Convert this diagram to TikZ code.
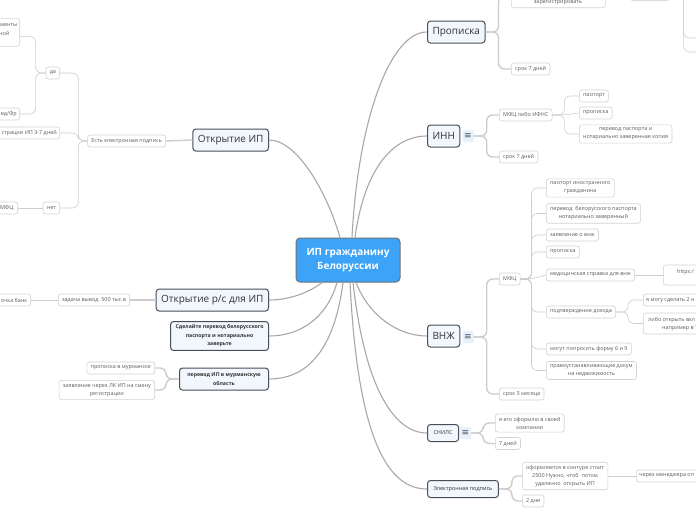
\documentclass[tikz,border=0pt]{standalone}
\usepackage{fontspec}
\setmainfont{Open Sans}
\newfontfamily\symfont{DejaVu Sans}
\usetikzlibrary{calc}
\definecolor{centfill}{HTML}{3DA3F7}
\definecolor{centdraw}{HTML}{6E7378}
\definecolor{topfill}{HTML}{F2F7FD}
\definecolor{topdraw}{HTML}{4A4F55}
\definecolor{toptext}{HTML}{333333}
\definecolor{subdraw}{HTML}{D2D2D2}
\definecolor{subtext}{HTML}{5C5C5C}
\definecolor{mainline}{HTML}{A8A8A8}
\definecolor{brline}{HTML}{CDCDCD}
\definecolor{iconfill}{HTML}{E6F1FC}
\newcommand\fsub{\fontsize{5.45}{8}\selectfont}
\newcommand\fmain{\fontsize{10}{12}\selectfont}
\tikzset{
 central/.style={draw=centdraw, line width=1pt, fill=centfill, rounded corners=4pt, text=white,
   font=\fontsize{10}{14}\selectfont\bfseries, align=center, minimum width=104, minimum height=44},
 topic/.style={draw=topdraw, line width=1pt, fill=topfill, rounded corners=3pt, text=toptext,
   font=\fmain, inner xsep=5pt, minimum height=22},
 smalltopic/.style={topic, font=\fontsize{5.5}{8}\selectfont, minimum height=17, inner xsep=6pt},
 boldtopic/.style={topic, font=\fontsize{5.2}{8.5}\selectfont\bfseries, align=center, inner xsep=5pt},
 sub/.style={draw=subdraw, line width=0.6pt, fill=white, rounded corners=2.5pt, text=subtext,
   font=\fsub, align=center, inner xsep=3.8pt, inner ysep=3pt, minimum height=12},
 subtxt/.style={text=subtext, font=\fsub, inner sep=0pt},
 icon/.style={fill=iconfill, rounded corners=1pt, minimum width=11, minimum height=12, inner sep=0pt,
   text=topdraw, font=\symfont\fontsize{9}{9}\selectfont},
 mainln/.style={draw=mainline, line width=1.1pt},
 brthick/.style={draw=brline, line width=1.4pt, rounded corners=6pt},
 brthin/.style={draw=brline, line width=0.6pt, rounded corners=6pt},
}
\begin{document}
\begin{tikzpicture}[x=1pt,y=-1pt]
\useasboundingbox (0,0) rectangle (696,520);
\clip (0,0) rectangle (696,520);
\fill[white] (0,0) rectangle (696,520);

% ---------- nodes ----------
\node[central] (central) at (348,260) {ИП гражданину\\Белоруссии};

\node[topic, anchor=west] (propiska) at (427,32) {Прописка};
\node[topic, anchor=west] (inn) at (427,136) {ИНН};
\node[topic, anchor=west] (vnzh) at (427,336) {ВНЖ};
\node[smalltopic, anchor=west] (snils) at (427,433) {СНИЛС};
\node[smalltopic, anchor=west] (ep) at (427,489) {Электронная подпись};

\node[topic, anchor=east] (otkip) at (269,140) {Открытие ИП};
\node[topic, anchor=east] (otkrs) at (269,300) {Открытие р/с для ИП};
\node[boldtopic, anchor=east] (sdel) at (269,336) {Сделайте перевод белорусского\\паспорта и нотариально\\заверьте};
\node[boldtopic, anchor=east, minimum width=89] (perev) at (269,379) {перевод ИП в мурманскую\\область};

\node[icon] (inni) at (468,136) {≡};
\node[icon] (vnzhi) at (468,337) {≡};
\node[icon] (snilsi) at (465.5,433) {≡};

% Прописка
\node[sub, anchor=south west, minimum width=94, minimum height=24] (proptop) at (511,8) {};
\node[subtxt] (proptopt) at (558,3) {зарегистрировать};
\node[sub, anchor=south west, minimum width=39, minimum height=16] (proptop2) at (630,1) {};
\node[sub, anchor=west] (psrok) at (511,69) {срок 7 дней};

% ИНН
\node[sub, anchor=west] (innmfc) at (499,115) {МФЦ либо ИФНС};
\node[sub, anchor=west] (innsrok) at (499,157) {срок 7 дней};
\node[sub, anchor=west] (innp1) at (579,96) {паспорт};
\node[sub, anchor=west] (innp2) at (579,113) {прописка};
\node[sub, anchor=west] (innp3) at (579,134) {перевод паспорта и\\нотариально заверенная копия};

% ВНЖ
\node[sub, anchor=west] (vmfc) at (499,279) {МФЦ};
\node[sub, anchor=west] (v1) at (546,188) {паспорт иностранного\\гражданина};
\node[sub, anchor=west] (v2) at (546,213.5) {перевод\ \ белорусского паспорта\\нотариально заверенный};
\node[sub, anchor=west] (v3) at (546,235) {заявление о внж};
\node[sub, anchor=west] (v4) at (546,252) {прописка};
\node[sub, anchor=west] (v5) at (546,275) {медицинская справка для внж};
\node[sub, anchor=west, minimum width=60, minimum height=20] (v5a) at (663,275) {};
\node[subtxt, anchor=west] (v5at) at (677,272) {https:/};
\node[sub, anchor=west] (v6) at (546,312) {подтверждение дохода};
\node[sub, anchor=west, minimum width=60] (v6a) at (643,300) {};
\node[subtxt, anchor=west] (v6at) at (646,300) {я могу сделать 2 н};
\node[sub, anchor=west, minimum width=60, minimum height=21] (v6b) at (643,323.5) {};
\node[subtxt, anchor=west] (v6bt1) at (648,320) {либо открыть вкл};
\node[subtxt, anchor=west] (v6bt2) at (662,328) {например в Т};
\node[sub, anchor=west] (v7) at (546,349) {могут попросить форму 6 и 9};
\node[sub, anchor=west] (v8) at (546,370.5) {правоустанавливающие докум\\на недвижимость};
\node[sub, anchor=west] (vsrok) at (499,394) {срок 3 месяца};

% СНИЛС
\node[sub, anchor=west] (s1) at (495,423) {я его оформлю в своей\\компании};
\node[sub, anchor=west] (s2) at (495,443.5) {7 дней};

% Электронная подпись
\node[sub, anchor=west] (e1) at (522,476) {оформляется в контуре стоит\\2500 Нужно, чтоб\ \ потом\\удаленно\ \ открыть ИП};
\node[sub, anchor=west, minimum width=70] (e1a) at (636,476) {};
\node[subtxt, anchor=west] (e1at) at (639,476) {через менеджера оп};
\node[sub, anchor=west] (e2) at (522,501) {2 дня};

% Открытие ИП
\node[sub, anchor=east] (est) at (166,141) {Есть электронная подпись};
\node[sub, anchor=east] (da) at (60,73) {да};
\node[sub, anchor=east] (net) at (60,208) {нет};
\node[sub, anchor=east, minimum width=70] (strac) at (60,133) {};
\node[subtxt, anchor=east] (stract) at (57,133) {страции ИП 3-7 дней};
\node[sub, anchor=north east, minimum width=60, minimum height=28] (menty) at (20,18) {};
\node[subtxt, anchor=east] (mentyt1) at (17.5,25) {менты};
\node[subtxt, anchor=east] (mentyt2) at (9.5,33) {ной};
\node[sub, anchor=east, minimum width=40] (edfr) at (20,114) {};
\node[subtxt, anchor=east] (edfrt) at (17,114) {ед/Фр};
\node[sub, anchor=east, minimum width=40] (mfcl) at (18,208) {};
\node[subtxt, anchor=east] (mfclt) at (13.5,208) {МФЦ};

% Открытие р/с
\node[sub, anchor=east] (zad) at (130,300) {задача вывод\ \ 500 тыс в};
\node[sub, anchor=east, minimum width=50] (bank) at (31,300) {};
\node[subtxt, anchor=east] (bankt) at (27.5,300) {очка банк};

% перевод ИП
\node[sub, anchor=east] (pm1) at (155,368) {прописка в мурманске};
\node[sub, anchor=east] (pm2) at (155,390) {заявление через ЛК ИП на смену\\регистрации};

\coordinate (tr1) at (712,38);
\coordinate (tr2) at (712,52);

% ---------- connectors ----------
\draw[mainln] ([xshift=4pt]central.north) .. controls (358,120) and (390,32) .. (propiska.west);
\draw[mainln] ([xshift=7pt]central.north) .. controls (365,165) and (395,136) .. (inn.west);
\draw[mainln] ([xshift=-8pt]central.north) .. controls (328,195) and (298,140) .. (otkip.east);
\draw[mainln] ([xshift=-26pt]central.south) .. controls (310,292) and (290,300) .. (otkrs.east);
\draw[mainln] ([xshift=-11pt]central.south) .. controls (327,318) and (300,336) .. (sdel.east);
\draw[mainln] ([xshift=-5pt]central.south) .. controls (333,360) and (300,379) .. (perev.east);
\draw[mainln] ([xshift=8pt]central.south) .. controls (370,318) and (400,336) .. (vnzh.west);
\draw[mainln] ([xshift=5pt]central.south) .. controls (365,390) and (395,433) .. (snils.west);
\draw[mainln] ([xshift=2pt]central.south) .. controls (358,445) and (390,489) .. (ep.west);

% Прописка branches
\draw[brthick] (propiska.east) -- ++(13,0) |- (proptop.west);
\draw[brthick] (propiska.east) -- ++(13,0) |- (psrok.west);
\draw[brthin] (proptop.east) -- (proptop2.west);
\draw[brthin] (proptop2.east) -- ++(14,0) |- (tr1);
\draw[brthin] (proptop2.east) -- ++(14,0) |- (tr2);

% ИНН
\draw[brthick] (inni.east) -- ++(13,0) |- (innmfc.west);
\draw[brthick] (inni.east) -- ++(13,0) |- (innsrok.west);
\draw[brthin] (innmfc.east) -- ++(12,0) |- (innp1.west);
\draw[brthin] (innmfc.east) -- ++(12,0) -- (innp2.west);
\draw[brthin] (innmfc.east) -- ++(12,0) |- (innp3.west);

% ВНЖ
\draw[brthick] (vnzhi.east) -- ++(13,0) |- (vmfc.west);
\draw[brthick] (vnzhi.east) -- ++(13,0) |- (vsrok.west);
\foreach \c in {v1,v2,v3,v4,v6,v7,v8}{
  \draw[brthin] (vmfc.east) -- ++(11,0) |- (\c.west);
}
\draw[brthin] (vmfc.east) -- ++(11,0) -- (v5.west);
\draw[brthin] (v5.east) -- (v5a.west);
\draw[brthin] (v6.east) -- ++(12,0) |- (v6a.west);
\draw[brthin] (v6.east) -- ++(12,0) |- (v6b.west);

% СНИЛС
\draw[brthick] (snilsi.east) -- ++(12,0) |- (s1.west);
\draw[brthick] (snilsi.east) -- ++(12,0) |- (s2.west);

% Электронная подпись
\draw[brthick] (ep.east) -- ++(13,0) |- (e1.west);
\draw[brthick] (ep.east) -- ++(13,0) |- (e2.west);
\draw[brthin] (e1.east) -- (e1a.west);

% Открытие ИП
\draw[brthick] (otkip.west) -- (est.east);
\draw[brthin] (est.west) -- ++(-9,0) |- (da.east);
\draw[brthin] (est.west) -- ++(-9,0) |- (strac.east);
\draw[brthin] (est.west) -- ++(-9,0) |- (net.east);
\draw[brthin] (da.west) -- ++(-10,0) |- ([yshift=-4pt]menty.east);
\draw[brthin] (da.west) -- ++(-10,0) |- (edfr.east);
\draw[brthin] (net.west) -- (mfcl.east);

% Открытие р/с
\draw[brthick] (otkrs.west) -- (zad.east);
\draw[brthin] (zad.west) -- (bank.east);

% перевод ИП
\draw[brthick] (perev.west) -- ++(-13,0) |- (pm1.east);
\draw[brthick] (perev.west) -- ++(-13,0) |- (pm2.east);
\end{tikzpicture}
\end{document}
